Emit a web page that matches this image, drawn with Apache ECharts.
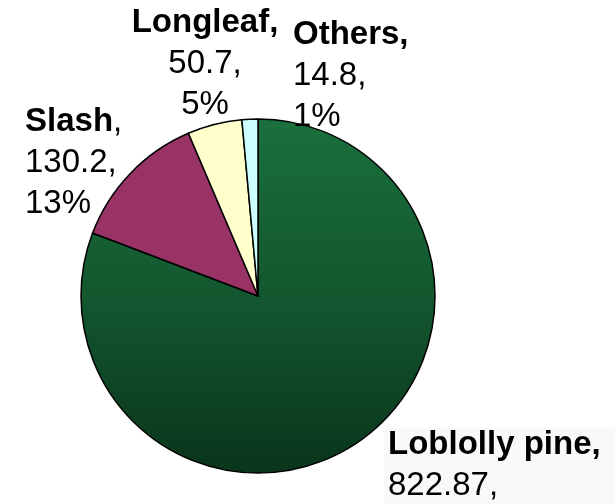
<!DOCTYPE html>
<html>
<head>
<meta charset="utf-8">
<script src="https://cdn.jsdelivr.net/npm/echarts@6/dist/echarts.min.js"></script>
<style>
html,body{margin:0;padding:0;background:#fff;}
#chart{width:615px;height:504px;}
</style>
</head>
<body>
<div id="chart"></div>
<script>
// ---- data ----
var categories = ['Loblolly pine', 'Slash', 'Longleaf', 'Others'];
var values = [822.87, 130.2, 50.7, 14.8];

// ---- styling (kept apart from data) ----
var sliceColors = [
  new echarts.graphic.LinearGradient(0, 0, 0, 1, [
    {offset: 0, color: '#1a703c'},
    {offset: 0.5, color: '#13572f'},
    {offset: 1, color: '#0a351b'}
  ]),
  '#993366',
  '#ffffcc',
  '#ccffff'
];
// label anchor (top-left / top-center of the text block) and alignment
var labelAnchors = [
  {x: 388, y: 424, align: 'left'},
  {x: 25, y: 101, align: 'left'},
  {x: 205, y: 2, align: 'center'},
  {x: 293, y: 14, align: 'left'}
];
var boldComma = [true, false, true, true];

var chart = echarts.init(document.getElementById('chart'), null, {renderer: 'canvas'});

var seriesData = categories.map(function (c, i) {
  return {name: c, value: values[i], itemStyle: {color: sliceColors[i]}};
});

var FONT = '"Liberation Sans", Arial, Helvetica, sans-serif';

chart.setOption({
  backgroundColor: '#ffffff',
  animation: false,
  graphic: [{
    type: 'rect', z: -10, silent: true,
    shape: {x: 384, y: 428, width: 231, height: 76},
    style: {fill: '#f9f9f9'}
  }],
  series: [{
    type: 'pie',
    center: [258, 296],
    radius: 177,
    startAngle: 90,
    clockwise: true,
    avoidLabelOverlap: false,
    itemStyle: {borderColor: '#000000', borderWidth: 1.5},
    emphasis: {disabled: true},
    labelLine: {show: false},
    label: {
      show: true,
      position: 'outside',
      fontFamily: FONT,
      fontSize: 33,
      lineHeight: 41,
      color: '#000',
      formatter: function (p) {
        var i = p.dataIndex;
        var pct = Math.round(p.percent) + '%';
        var first = boldComma[i] ? '{b|' + p.name + ',}' : '{b|' + p.name + '}{r|,}';
        return first + '\n{r|' + p.value + ',}\n{r|' + pct + '}';
      },
      rich: {
        b: {fontFamily: FONT, fontSize: 33, fontWeight: 'bold', lineHeight: 41, color: '#000'},
        r: {fontFamily: FONT, fontSize: 33, fontWeight: 'normal', lineHeight: 41, color: '#000'}
      }
    },
    labelLayout: function (params) {
      var a = labelAnchors[params.dataIndex];
      return {x: a.x, y: a.y, align: a.align, verticalAlign: 'top', hideOverlap: false, moveOverlap: null};
    },
    data: seriesData
  }]
});
</script>
</body>
</html>
